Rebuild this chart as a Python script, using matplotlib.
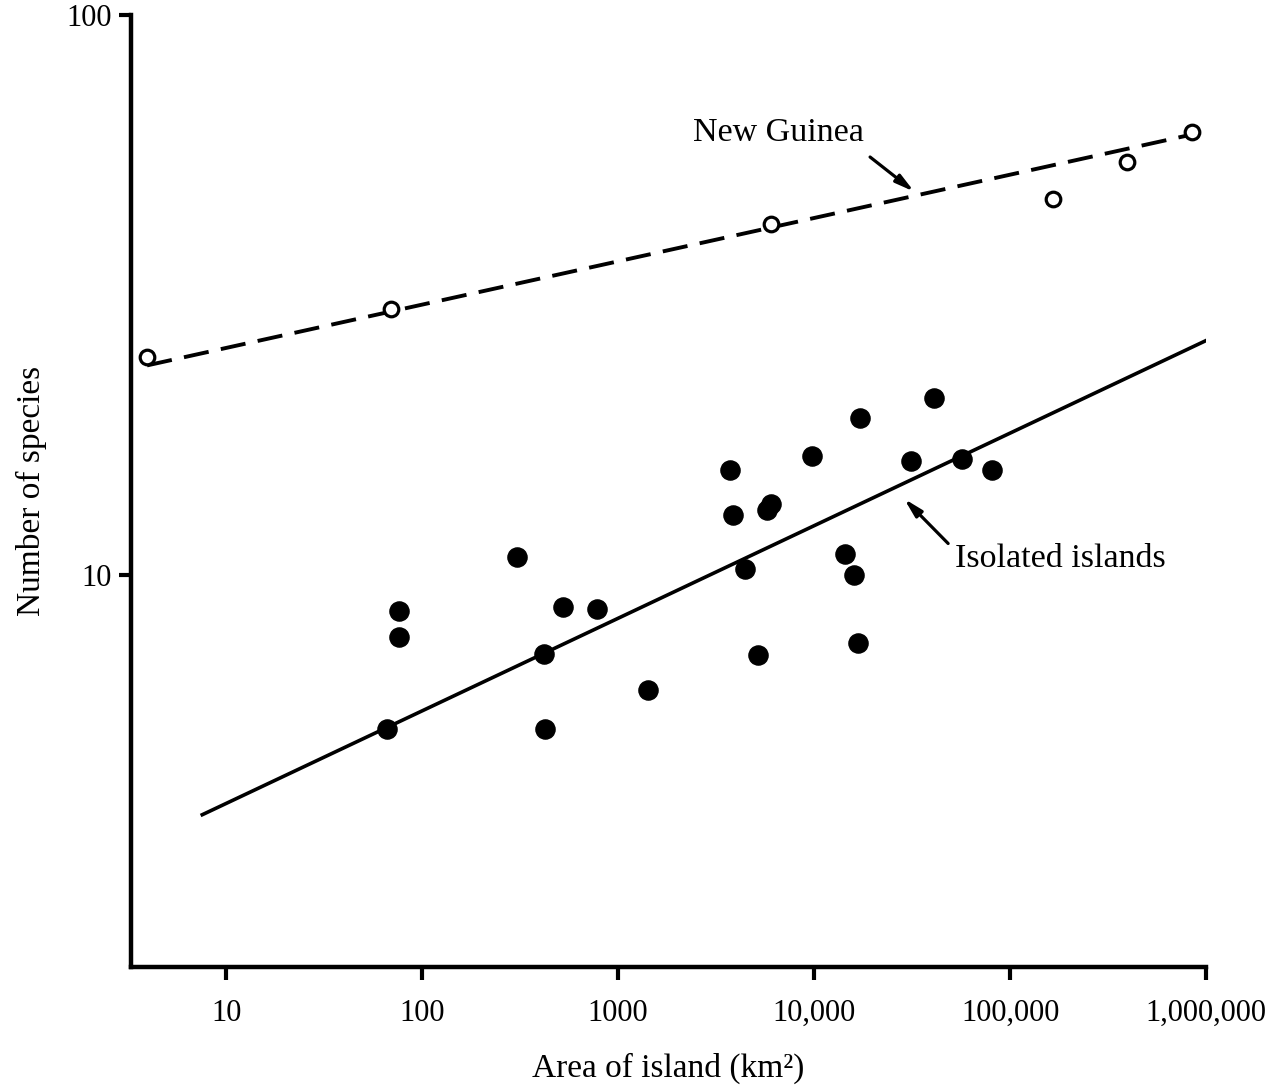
# plot.py
# Species-area relationship: New Guinea areas vs isolated islands (log-log).

import numpy as np
import matplotlib
matplotlib.use("Agg")
import matplotlib.pyplot as plt

plt.rcParams["font.family"] = ["Liberation Serif", "DejaVu Serif"]

# New Guinea (open circles) and fitted dashed line
ng_area    = [3.95, 69.5, 6040, 165600, 395000, 849000]
ng_species = [24.5, 29.9, 42.3, 46.9, 54.7, 61.9]
ng_fit_area    = [3.95, 828000]
ng_fit_species = [23.7, 61.1]

# Isolated islands (filled circles) and fitted solid line
iso_area = [66.2, 76.4, 76.4, 305, 419, 425, 524, 781, 1422,
            3724, 3860, 4450, 5750, 6040, 5170, 9770, 14400, 16000,
            16750, 17200, 31250, 40900, 56900, 80900]
iso_species = [5.32, 8.63, 7.76, 10.8, 7.23, 5.32, 8.77, 8.70, 6.24,
               15.4, 12.8, 10.25, 13.1, 13.4, 7.2, 16.3, 10.9, 10.0,
               7.57, 19.1, 16.0, 20.7, 16.1, 15.4]
iso_fit_area    = [7.55, 989000]
iso_fit_species = [3.74, 26.2]

x_ticks  = [10, 100, 1000, 10000, 100000, 1000000]
x_labels = ["10", "100", "1000", "10,000", "100,000", "1,000,000"]
y_ticks  = [10, 100]
y_labels = ["10", "100"]

fig = plt.figure(figsize=(12.81, 10.90), dpi=100)
ax = fig.add_axes([0.1023, 0.1128, 0.8392, 0.8734])

ax.set_xscale("log")
ax.set_yscale("log")
ax.set_xlim(3.27, 1e6)
ax.set_ylim(2, 100)

# fitted lines
ax.plot(ng_fit_area, ng_fit_species, color="black", linewidth=2.8,
        linestyle=(0, (6.5, 3.2)), zorder=2)
ax.plot(iso_fit_area, iso_fit_species, color="black", linewidth=2.6, zorder=2)

# points
ax.plot(ng_area, ng_species, linestyle="none", marker="o", markersize=10.5,
        markerfacecolor="white", markeredgecolor="black",
        markeredgewidth=2.3, zorder=3, clip_on=False)
ax.plot(iso_area, iso_species, linestyle="none", marker="o", markersize=13.8,
        markerfacecolor="black", markeredgecolor="black", zorder=3)

# labels with arrows
arrow = dict(arrowstyle="-|>,head_length=1.1,head_width=0.28",
             color="black", linewidth=2.3, shrinkA=0, shrinkB=0)
ax.text(6550, 61.6, "New Guinea", fontsize=24.5, ha="center", va="center")
ax.annotate("", xy=(32400, 48.4), xytext=(19300, 55.8), arrowprops=arrow)
ax.text(52400, 10.7, "Isolated islands", fontsize=24.5, ha="left", va="center")
ax.annotate("", xy=(28800, 13.7), xytext=(48300, 11.4), arrowprops=arrow)

# axes styling
for side in ["top", "right"]:
    ax.spines[side].set_visible(False)
for side in ["left", "bottom"]:
    ax.spines[side].set_linewidth(3.2)

ax.set_xticks(x_ticks)
ax.set_xticklabels(x_labels)
ax.set_yticks(y_ticks)
ax.set_yticklabels(y_labels)
ax.minorticks_off()
ax.tick_params(axis="both", direction="out", length=9, width=3.0,
               labelsize=22)
ax.tick_params(axis="x", pad=14)
ax.tick_params(axis="y", pad=5)

ax.set_xlabel("Area of island (km\u00b2)", fontsize=24, labelpad=18)
ax.set_ylabel("Number of species", fontsize=24, labelpad=14)

fig.savefig("out.png", dpi=100)
